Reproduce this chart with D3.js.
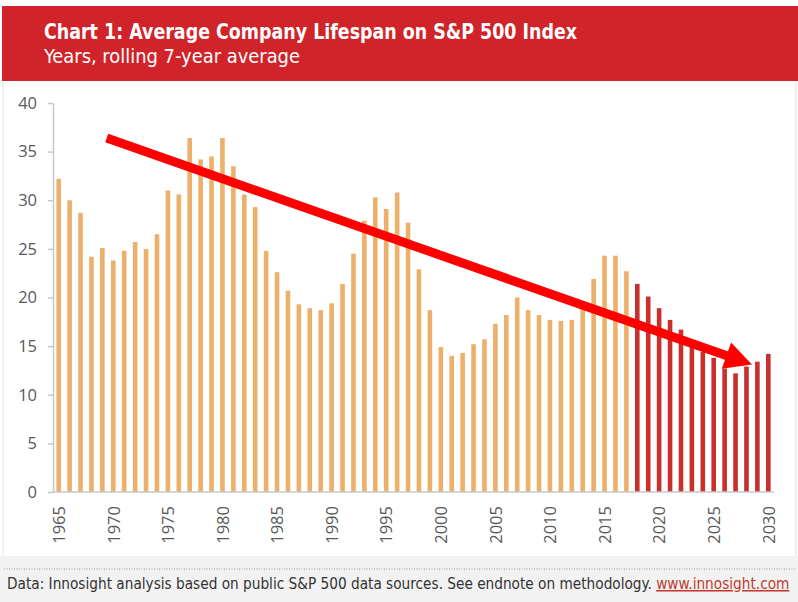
<!DOCTYPE html>
<html><head><meta charset="utf-8">
<script src="https://cdn.jsdelivr.net/npm/d3@7"></script>
<style>html,body{margin:0;padding:0;background:#fff}svg{display:block}</style>
</head><body><svg id="c" width="798" height="602"></svg>
<script>
const title = "Chart 1: Average Company Lifespan on S&P 500 Index";
const subtitle = "Years, rolling 7-year average";
const sourceText = "Data: Innosight analysis based on public S&P 500 data sources. See endnote on methodology.";
const sourceLink = "www.innosight.com";

const historicalYears = d3.range(1965, 2018);
const historicalValues = [32.2,30.0,28.7,24.2,25.1,23.8,24.8,25.7,25.0,26.5,
  31.0,30.6,36.4,34.2,34.5,36.4,33.5,30.6,29.3,24.8,
  22.6,20.7,19.3,18.9,18.7,19.4,21.4,24.5,27.9,30.3,
  29.1,30.8,27.7,22.9,18.7,14.9,14.0,14.3,15.2,15.7,
  17.3,18.2,20.0,18.7,18.2,17.7,17.6,17.7,18.9,21.9,
  24.3,24.3,22.7];
const projectedYears = d3.range(2018, 2031);
const projectedValues = [21.4,20.1,18.9,17.7,16.7,15.5,14.4,13.8,12.7,12.2,12.9,13.4,14.2];

const yTicks = [0,5,10,15,20,25,30,35,40];
const xTicks = [1965,1970,1975,1980,1985,1990,1995,2000,2005,2010,2015,2020,2025,2030];
const trendArrow = [{year:1969.4, value:36.4},{year:2028.5, value:13.1}];

const svg = d3.select("#c");
const x = d3.scaleLinear().domain([1965, 2030]).range([58.7, 768.3]);
const y = d3.scaleLinear().domain([0, 40]).range([492, 103]);
const barW = 4.6;
const condensed = "'Liberation Sans Narrow','DejaVu Sans Condensed',sans-serif";

// frame
svg.append("rect").attr("x",0).attr("y",0).attr("width",798).attr("height",602).attr("fill","#fff");
svg.append("line").attr("x1",3).attr("x2",3).attr("y1",81).attr("y2",556).attr("stroke","#e6e6e6");
svg.append("line").attr("x1",796).attr("x2",796).attr("y1",81).attr("y2",556).attr("stroke","#e0e0e0");

// header
svg.append("rect").attr("x",2).attr("y",6).attr("width",796).attr("height",75).attr("fill","#D0232A");
svg.append("text").text(title).attr("x",44).attr("y",39)
  .attr("font-family",condensed)
  .attr("font-weight","bold").attr("font-size",21).attr("fill","#fff")
  .attr("textLength",533).attr("lengthAdjust","spacingAndGlyphs");
svg.append("text").text(subtitle).attr("x",44).attr("y",63)
  .attr("font-family",condensed)
  .attr("font-size",19).attr("fill","#fff")
  .attr("textLength",256).attr("lengthAdjust","spacingAndGlyphs");

// bars
svg.append("g").selectAll("rect").data(historicalYears.map((d,i)=>({year:d,value:historicalValues[i]})))
  .join("rect").attr("x",d=>x(d.year)-barW/2).attr("width",barW)
  .attr("y",d=>y(d.value)).attr("height",d=>y(0)-y(d.value)).attr("fill","#EDB06B");
svg.append("g").selectAll("rect").data(projectedYears.map((d,i)=>({year:d,value:projectedValues[i]})))
  .join("rect").attr("x",d=>x(d.year)-barW/2).attr("width",barW)
  .attr("y",d=>y(d.value)).attr("height",d=>y(0)-y(d.value)).attr("fill","#C9302C");

// y axis
const gy = svg.append("g").attr("transform","translate(53,0)")
  .call(d3.axisLeft(y).tickValues(yTicks).tickSize(5).tickSizeOuter(0).tickPadding(11));
gy.select(".domain").attr("stroke","#c8c8c8").attr("stroke-width",1.5);
gy.selectAll(".tick line").attr("stroke","#c8c8c8").attr("stroke-width",1.5);
gy.selectAll("text").attr("font-family","'Open Sans',sans-serif").attr("font-size",16.5).attr("fill","#595959");

// x axis baseline + labels
svg.append("line").attr("x1",53).attr("x2",774).attr("y1",y(0)).attr("y2",y(0))
  .attr("stroke","#c8c8c8").attr("stroke-width",1.5);
const gx = svg.append("g").attr("transform",`translate(0,${y(0)})`)
  .call(d3.axisBottom(x).tickValues(xTicks).tickSize(0).tickFormat(d3.format("d")));
gx.select(".domain").remove();
gx.selectAll("text").attr("transform","rotate(-90)").attr("text-anchor","end")
  .attr("x",-14).attr("y",0).attr("dy","0.35em")
  .attr("font-family","'Open Sans',sans-serif").attr("font-size",16.5).attr("fill","#595959");

// trend arrow
const S = [x(trendArrow[0].year), y(trendArrow[0].value)];
const T = [x(trendArrow[1].year), y(trendArrow[1].value)];
const len = Math.hypot(T[0]-S[0], T[1]-S[1]);
const u = [(T[0]-S[0])/len, (T[1]-S[1])/len];
const n = [-u[1], u[0]];
const L = 27, W = 14;
const B = [T[0]-u[0]*L, T[1]-u[1]*L];
svg.append("line").attr("x1",S[0]).attr("y1",S[1]).attr("x2",B[0]+u[0]*2).attr("y2",B[1]+u[1]*2)
  .attr("stroke","#FF0000").attr("stroke-width",9);
svg.append("polygon").attr("points",[T,[B[0]+n[0]*W,B[1]+n[1]*W],[B[0]-n[0]*W,B[1]-n[1]*W]].map(p=>p.join(",")).join(" "))
  .attr("fill","#FF0000");

// footer
svg.append("rect").attr("x",0).attr("y",556).attr("width",798).attr("height",46).attr("fill","#f2f2f2");
svg.append("line").attr("x1",4).attr("x2",796).attr("y1",569).attr("y2",569)
  .attr("stroke","#9a9a9a").attr("stroke-dasharray","1,1.5");
const foot = svg.append("text").attr("x",7).attr("y",589)
  .attr("font-family",condensed).attr("font-size",16).attr("fill","#333");
foot.append("tspan").text(sourceText + " ");
foot.append("tspan").text(sourceLink).attr("fill","#C0392B").attr("text-decoration","underline");
// fit the footer line to the reference width by adjusting the font size
const natural = foot.node().getComputedTextLength();
if (natural > 0) foot.attr("font-size", 16 * 783 / natural);
</script></body></html>
